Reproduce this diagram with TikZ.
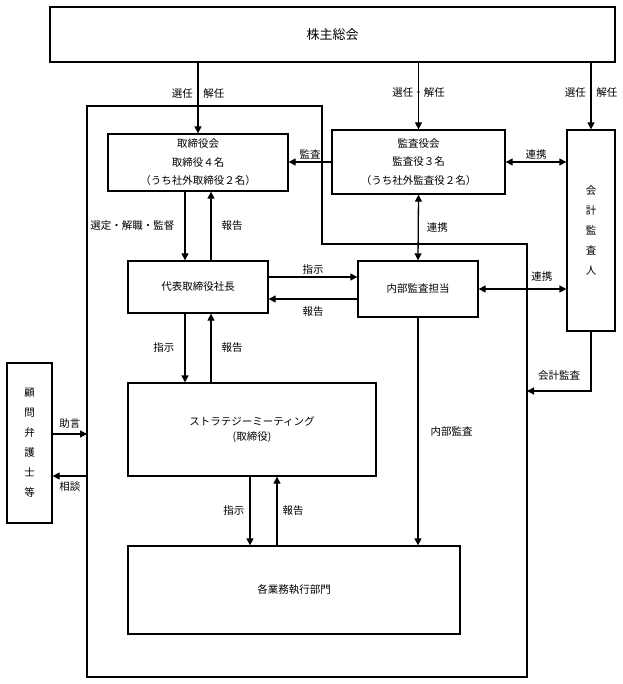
\documentclass[tikz,border=0pt]{standalone}
\usepackage{fontspec}
\setmainfont{Noto Sans CJK JP}
\usetikzlibrary{arrows.meta}

\begin{document}
\begin{tikzpicture}[x=1pt, y=-1pt, >={Triangle[length=7pt,width=7pt]}, line width=1.3pt,
    box/.style={draw, inner sep=0pt, align=center, font=\fontsize{10.5pt}{18.5pt}\selectfont},
    vbox/.style={box, font=\fontsize{10.5pt}{20pt}\selectfont},
    lbl/.style={font=\fontsize{10.5pt}{12pt}\selectfont, inner sep=2pt}]
    \useasboundingbox (0,0) rectangle (622,684);

    % Draw the company frame
    \draw (87,106) -- (322,106) -- (322,244) -- (527,244) -- (527,677) -- (87,677) -- cycle;
    \coordinate (frAudit) at (527,391);
    \coordinate (frAdvice) at (87,434);
    \coordinate (frConsult) at (87,476);

    % Draw the boxes
    \node[box, minimum width=565pt, minimum height=55pt, font=\fontsize{13pt}{15pt}\selectfont] (gm) at (332.5,34.5) {株主総会};
    \node[box, minimum width=180pt, minimum height=57pt] (board) at (198,162.5) {取締役会\\取締役４名\\（うち社外取締役２名）};
    \node[box, minimum width=173pt, minimum height=64pt] (auditors) at (418.5,162) {監査役会\\監査役３名\\（うち社外監査役２名）};
    \node[vbox, minimum width=48pt, minimum height=201pt] (cpa) at (591,230.5) {会\\計\\監\\査\\人};
    \node[box, minimum width=140pt, minimum height=52pt] (pres) at (198,287) {代表取締役社長};
    \node[box, minimum width=120pt, minimum height=56pt] (intaudit) at (418,289) {内部監査担当};
    \node[box, minimum width=248pt, minimum height=93pt] (strat) at (252,429.5) {ストラテジーミーティング\\[-4pt](取締役)};
    \node[box, minimum width=332pt, minimum height=88pt] (dept) at (294,590) {各業務執行部門};
    \node[vbox, minimum width=45pt, minimum height=160pt] (lawyer) at (29.5,443) {顧\\問\\弁\\護\\士\\等};

    % Appointment arrows from the general meeting
    \draw[->] (gm.south -| board.north) -- (board.north) node[lbl, pos=0.43] {選任・解任};
    \draw[->] (gm.south -| auditors.north) -- (auditors.north) node[lbl, pos=0.45] {選任・解任};
    \draw[->] (gm.south -| cpa.north) -- (cpa.north) node[lbl, pos=0.45] {選任・解任};

    % Auditors
    \draw[->] (auditors.west) -- (auditors.west -| board.east) node[lbl, midway, above] {監査};
    \draw[<->] (auditors.east) -- (auditors.east -| cpa.west) node[lbl, midway, above] {連携};
    \draw[<->] (auditors.south) -- (intaudit.north) node[lbl, midway, right=6pt] {連携};
    \draw[<->] (intaudit.east) -- (intaudit.east -| cpa.west) node[lbl, pos=0.72, above=5pt] {連携};
    \draw[->] (cpa.south) |- (frAudit) node[lbl, pos=0.75, above=8pt] {会計監査};
    \draw[->] (intaudit.south) -- (intaudit.south |- dept.north) node[lbl, midway, right=10pt] {内部監査};

    % Board and president
    \draw[->] ([xshift=-13pt]board.south) -- ([xshift=-13pt]pres.north) node[lbl, midway, left=8pt] {選定・解職・監督};
    \draw[->] ([xshift=13pt]pres.north) -- ([xshift=13pt]board.south) node[lbl, midway, right=8pt] {報告};
    \draw[->] ([yshift=10pt]pres.east) -- ([yshift=10pt]pres.east -| intaudit.west) node[lbl, midway, above] {指示};
    \draw[->] ([yshift=-10pt]intaudit.west) -- ([yshift=-10pt]intaudit.west -| pres.east) node[lbl, midway, below=5pt] {報告};

    % President, strategy meeting and departments
    \draw[->] ([xshift=-13pt]pres.south) -- ([xshift=-13pt]pres.south |- strat.north) node[lbl, midway, left=8pt] {指示};
    \draw[->] ([xshift=13pt]pres.south |- strat.north) -- ([xshift=13pt]pres.south) node[lbl, midway, right=8pt] {報告};
    \draw[->] ([xshift=-2pt]strat.south) -- ([xshift=-2pt]strat.south |- dept.north) node[lbl, midway, left=3pt] {指示};
    \draw[->] ([xshift=25pt]strat.south |- dept.north) -- ([xshift=25pt]strat.south) node[lbl, midway, right=3pt] {報告};

    % Legal advisers
    \draw[->] (lawyer.east |- frAdvice) -- (frAdvice) node[lbl, midway, above=3pt] {助言};
    \draw[->] (frConsult) -- (lawyer.east |- frConsult) node[lbl, midway, below=3pt] {相談};
\end{tikzpicture}
\end{document}
